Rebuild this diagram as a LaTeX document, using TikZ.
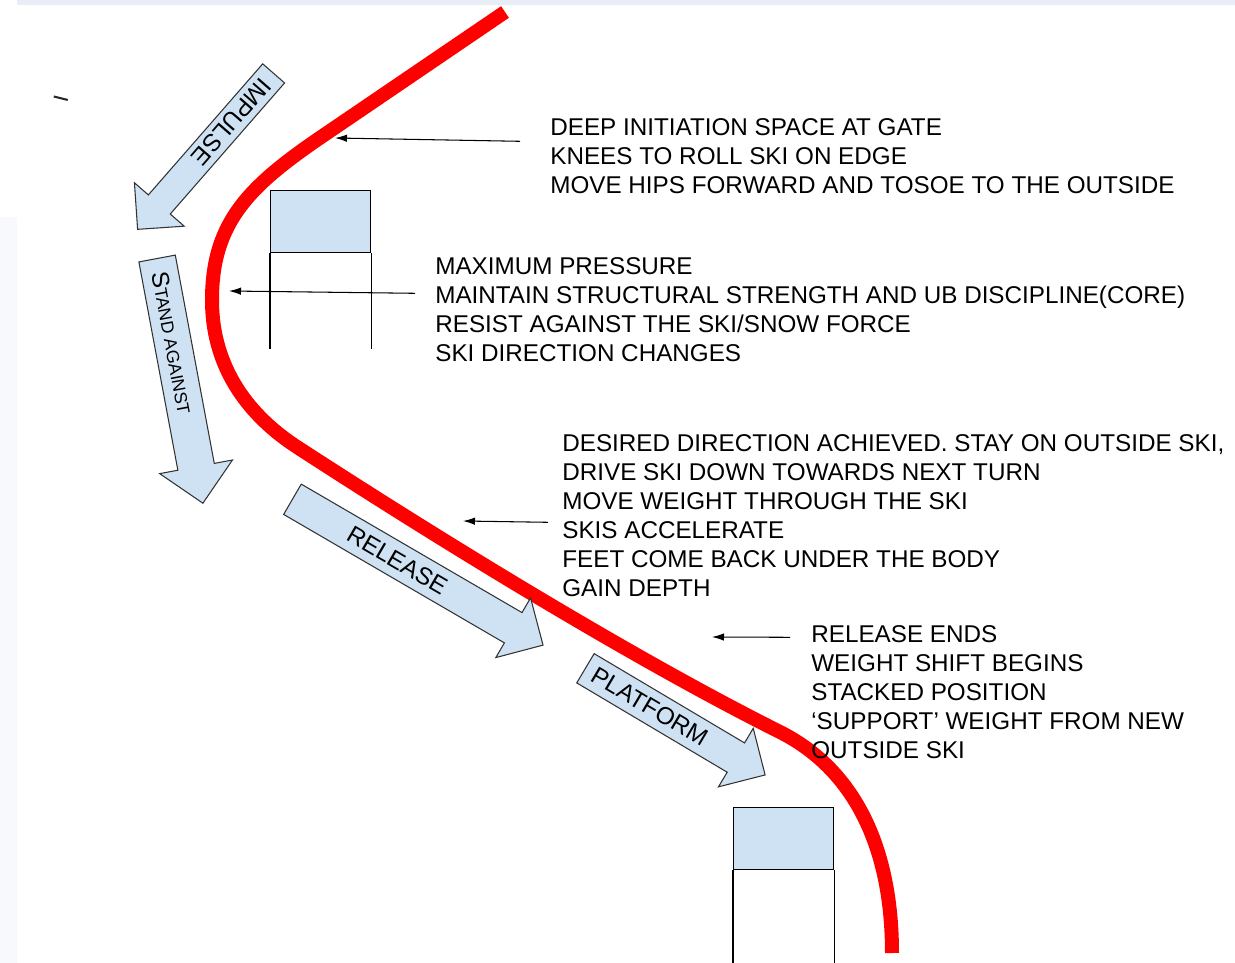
\documentclass[tikz,border=0pt]{standalone}
\usepackage{fontspec}
\setmainfont{Liberation Sans}
\usetikzlibrary{arrows.meta,shapes.arrows,calc}
\definecolor{skired}{RGB}{255,0,0}
\definecolor{flagblue}{RGB}{207,226,243}
\definecolor{edgegray}{RGB}{50,50,50}
\definecolor{stripblue}{RGB}{233,238,246}
\definecolor{stripgray}{RGB}{248,249,252}

\begin{document}
\begin{tikzpicture}[
  x=0.02cm, y=-0.02cm,
  skiline/.style={draw=skired, line width=0.28cm, line cap=butt},
  phase/.style={single arrow, draw=edgegray, fill=flagblue, line width=0.6pt,
                single arrow tip angle=90, inner xsep=0pt},
  phaselbl/.style={font=\fontsize{13.8}{16}\selectfont, inner sep=0pt},
  flag/.style={rectangle, draw=black, fill=flagblue, line width=0.7pt,
               minimum width=2cm, minimum height=1.24cm, anchor=north west, inner sep=0pt},
  pole/.style={draw=black, line width=0.7pt},
  note/.style={anchor=north west, align=left, inner sep=0pt,
               font=\fontsize{13.8}{16.44}\selectfont},
  pointer/.style={-{Latex[length=2.4mm,width=1.5mm]}, line width=0.6pt}
]
\useasboundingbox (0,0) rectangle (1235,963);
\fill[stripblue] (17,0) rectangle (1235,5);
\fill[stripgray] (0,217) rectangle (17,963);
\fill[black!85] (54,95.5) -- (68,99) -- (67.5,101) -- (53.5,97.5) -- cycle;

\node[flag] (flagA) at (270,190) {};
\draw[pole] (flagA.south west) -- ++(0,96) (flagA.south east) -- ++(0,96);
\node[flag] (flagB) at (733,807) {};
\draw[pole] (flagB.south west) -- ++(0,94) (flagB.south east) -- ++(0,94);

\draw[skiline] (505,12) -- (330,131) .. controls (251,184) and (212,220) .. (212,300)
  .. controls (212,370) and (251,417) .. (297,447)
  .. controls (465,556) and (646,665) .. (780,732)
  .. controls (851.5,768) and (892,843) .. (892,953);

\node[phase, rotate=-131.1, anchor=tail, minimum height=4.14cm, inner ysep=0.28cm,
      single arrow head extend=0.37cm] (impulse) at (274,73) {};
\node[phaselbl, rotate=-131.1] (impulselbl) at ($(impulse.tail)!0.31!(impulse.tip)$) {IMPULSE};
\node[phase, rotate=-79.4, anchor=tail, minimum height=4.98cm, inner ysep=0.36cm,
      single arrow head extend=0.37cm] (stand) at (157,258) {};
\node[phaselbl, rotate=-79.4] (standlbl) at ($(stand.tail)!0.345!(stand.tip)$)
  {S{\fontsize{10}{12}\selectfont TAND AGAINST}};
\node[phase, rotate=-30.2, anchor=tail, minimum height=5.8cm, inner ysep=0.34cm,
      single arrow head extend=0.34cm] (release) at (292,499) {};
\node[phaselbl, rotate=-30.2] (releaselbl) at ($(release.tail)!0.42!(release.tip)$) {RELEASE};
\node[phase, rotate=-30.7, anchor=tail, minimum height=4.18cm, inner ysep=0.33cm,
      single arrow head extend=0.34cm] (platform) at (585,668) {};
\node[phaselbl, rotate=-30.7] (platformlbl) at ($(platform.tail)!0.36!(platform.tip)$) {PLATFORM};

\node[note] (gate) at (550,118.3) {DEEP INITIATION SPACE AT GATE\\
  KNEES TO ROLL SKI ON EDGE\\MOVE HIPS FORWARD AND TOSOE TO THE OUTSIDE};
\node[note] (pressure) at (435,257.3) {MAXIMUM PRESSURE\\
  MAINTAIN STRUCTURAL STRENGTH AND UB DISCIPLINE(CORE)\\
  RESIST AGAINST THE SKI/SNOW FORCE\\SKI DIRECTION CHANGES};
\node[note] (direction) at (562,434.3) {DESIRED DIRECTION ACHIEVED. STAY ON OUTSIDE SKI,\\
  DRIVE SKI DOWN TOWARDS NEXT TURN\\MOVE WEIGHT THROUGH THE SKI\\SKIS ACCELERATE\\
  FEET COME BACK UNDER THE BODY\\GAIN DEPTH};
\node[note] (ends) at (811,625.3) {RELEASE ENDS\\WEIGHT SHIFT BEGINS\\STACKED POSITION\\
  ‘SUPPORT’ WEIGHT FROM NEW\\OUTSIDE SKI};

\coordinate (onA) at (335,138);
\coordinate (onB) at (229,291);
\coordinate (onC) at (463,521);
\coordinate (onD) at (712,637);
\draw[pointer] ($(gate.north west)+(-30,23)$) -- (onA);
\draw[pointer] ($(pressure.north west)+(-20,36)$) -- (onB);
\draw[pointer] ($(direction.north west)+(-14,88)$) -- (onC);
\draw[pointer] ($(ends.north west)+(-21,12)$) -- (onD);
\end{tikzpicture}
\end{document}
